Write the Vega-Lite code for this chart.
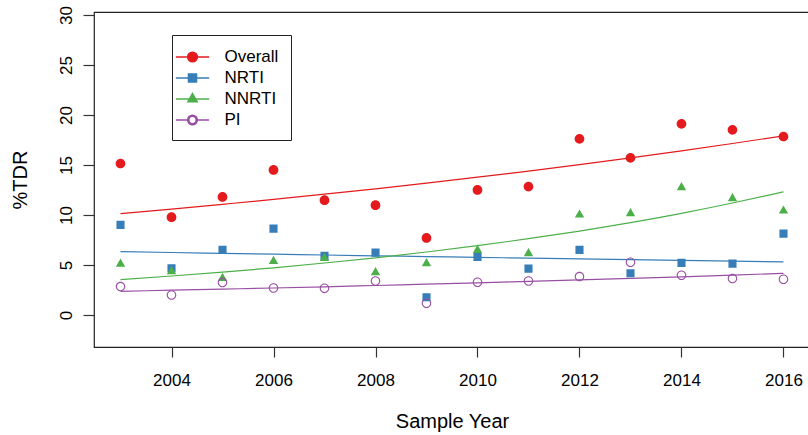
{
  "$schema": "https://vega.github.io/schema/vega-lite/v6.json",
  "width": 716,
  "height": 335,
  "autosize": {"type": "none"},
  "padding": {"left": 94, "top": 12, "right": 0, "bottom": 88},
  "background": "white",
  "config": {
    "view": {"stroke": "#222", "strokeWidth": 1.2},
    "font": "Liberation Sans"
  },
  "datasets": {
    "pts": [
      {"year": 2003, "series": "Overall", "value": 15.15},
      {"year": 2004, "series": "Overall", "value": 9.78},
      {"year": 2005, "series": "Overall", "value": 11.81},
      {"year": 2006, "series": "Overall", "value": 14.51},
      {"year": 2007, "series": "Overall", "value": 11.48},
      {"year": 2008, "series": "Overall", "value": 10.98},
      {"year": 2009, "series": "Overall", "value": 7.71},
      {"year": 2010, "series": "Overall", "value": 12.51},
      {"year": 2011, "series": "Overall", "value": 12.84},
      {"year": 2012, "series": "Overall", "value": 17.62},
      {"year": 2013, "series": "Overall", "value": 15.72},
      {"year": 2014, "series": "Overall", "value": 19.12},
      {"year": 2015, "series": "Overall", "value": 18.52},
      {"year": 2016, "series": "Overall", "value": 17.85},
      {"year": 2003, "series": "NRTI", "value": 9.01},
      {"year": 2004, "series": "NRTI", "value": 4.67},
      {"year": 2005, "series": "NRTI", "value": 6.51},
      {"year": 2006, "series": "NRTI", "value": 8.64},
      {"year": 2007, "series": "NRTI", "value": 5.91},
      {"year": 2008, "series": "NRTI", "value": 6.24},
      {"year": 2009, "series": "NRTI", "value": 1.77},
      {"year": 2010, "series": "NRTI", "value": 5.81},
      {"year": 2011, "series": "NRTI", "value": 4.64},
      {"year": 2012, "series": "NRTI", "value": 6.51},
      {"year": 2013, "series": "NRTI", "value": 4.17},
      {"year": 2014, "series": "NRTI", "value": 5.21},
      {"year": 2015, "series": "NRTI", "value": 5.14},
      {"year": 2016, "series": "NRTI", "value": 8.14},
      {"year": 2003, "series": "NNRTI", "value": 5.1},
      {"year": 2004, "series": "NNRTI", "value": 4.35},
      {"year": 2005, "series": "NNRTI", "value": 3.68},
      {"year": 2006, "series": "NNRTI", "value": 5.38},
      {"year": 2007, "series": "NNRTI", "value": 5.68},
      {"year": 2008, "series": "NNRTI", "value": 4.25},
      {"year": 2009, "series": "NNRTI", "value": 5.15},
      {"year": 2010, "series": "NNRTI", "value": 6.48},
      {"year": 2011, "series": "NNRTI", "value": 6.15},
      {"year": 2012, "series": "NNRTI", "value": 10.02},
      {"year": 2013, "series": "NNRTI", "value": 10.15},
      {"year": 2014, "series": "NNRTI", "value": 12.75},
      {"year": 2015, "series": "NNRTI", "value": 11.65},
      {"year": 2016, "series": "NNRTI", "value": 10.42},
      {"year": 2003, "series": "PI", "value": 2.84},
      {"year": 2004, "series": "PI", "value": 2.0},
      {"year": 2005, "series": "PI", "value": 3.24},
      {"year": 2006, "series": "PI", "value": 2.7},
      {"year": 2007, "series": "PI", "value": 2.67},
      {"year": 2008, "series": "PI", "value": 3.4},
      {"year": 2009, "series": "PI", "value": 1.17},
      {"year": 2010, "series": "PI", "value": 3.27},
      {"year": 2011, "series": "PI", "value": 3.4},
      {"year": 2012, "series": "PI", "value": 3.84},
      {"year": 2013, "series": "PI", "value": 5.27},
      {"year": 2014, "series": "PI", "value": 3.97},
      {"year": 2015, "series": "PI", "value": 3.64},
      {"year": 2016, "series": "PI", "value": 3.57}
    ],
    "fit": [
      {"year": 2003, "series": "Overall", "value": 10.14},
      {"year": 2004, "series": "Overall", "value": 10.59},
      {"year": 2005, "series": "Overall", "value": 11.07},
      {"year": 2006, "series": "Overall", "value": 11.56},
      {"year": 2007, "series": "Overall", "value": 12.08},
      {"year": 2008, "series": "Overall", "value": 12.62},
      {"year": 2009, "series": "Overall", "value": 13.19},
      {"year": 2010, "series": "Overall", "value": 13.78},
      {"year": 2011, "series": "Overall", "value": 14.39},
      {"year": 2012, "series": "Overall", "value": 15.04},
      {"year": 2013, "series": "Overall", "value": 15.71},
      {"year": 2014, "series": "Overall", "value": 16.41},
      {"year": 2015, "series": "Overall", "value": 17.15},
      {"year": 2016, "series": "Overall", "value": 17.92},
      {"year": 2003, "series": "NRTI", "value": 6.34},
      {"year": 2004, "series": "NRTI", "value": 6.25},
      {"year": 2005, "series": "NRTI", "value": 6.17},
      {"year": 2006, "series": "NRTI", "value": 6.09},
      {"year": 2007, "series": "NRTI", "value": 6.0},
      {"year": 2008, "series": "NRTI", "value": 5.92},
      {"year": 2009, "series": "NRTI", "value": 5.84},
      {"year": 2010, "series": "NRTI", "value": 5.76},
      {"year": 2011, "series": "NRTI", "value": 5.69},
      {"year": 2012, "series": "NRTI", "value": 5.61},
      {"year": 2013, "series": "NRTI", "value": 5.53},
      {"year": 2014, "series": "NRTI", "value": 5.46},
      {"year": 2015, "series": "NRTI", "value": 5.39},
      {"year": 2016, "series": "NRTI", "value": 5.31},
      {"year": 2003, "series": "NNRTI", "value": 3.54},
      {"year": 2004, "series": "NNRTI", "value": 3.9},
      {"year": 2005, "series": "NNRTI", "value": 4.29},
      {"year": 2006, "series": "NNRTI", "value": 4.72},
      {"year": 2007, "series": "NNRTI", "value": 5.2},
      {"year": 2008, "series": "NNRTI", "value": 5.72},
      {"year": 2009, "series": "NNRTI", "value": 6.3},
      {"year": 2010, "series": "NNRTI", "value": 6.93},
      {"year": 2011, "series": "NNRTI", "value": 7.63},
      {"year": 2012, "series": "NNRTI", "value": 8.39},
      {"year": 2013, "series": "NNRTI", "value": 9.24},
      {"year": 2014, "series": "NNRTI", "value": 10.17},
      {"year": 2015, "series": "NNRTI", "value": 11.2},
      {"year": 2016, "series": "NNRTI", "value": 12.32},
      {"year": 2003, "series": "PI", "value": 2.37},
      {"year": 2004, "series": "PI", "value": 2.48},
      {"year": 2005, "series": "PI", "value": 2.59},
      {"year": 2006, "series": "PI", "value": 2.7},
      {"year": 2007, "series": "PI", "value": 2.82},
      {"year": 2008, "series": "PI", "value": 2.95},
      {"year": 2009, "series": "PI", "value": 3.08},
      {"year": 2010, "series": "PI", "value": 3.21},
      {"year": 2011, "series": "PI", "value": 3.36},
      {"year": 2012, "series": "PI", "value": 3.51},
      {"year": 2013, "series": "PI", "value": 3.66},
      {"year": 2014, "series": "PI", "value": 3.82},
      {"year": 2015, "series": "PI", "value": 3.99},
      {"year": 2016, "series": "PI", "value": 4.17}
    ]
  },
  "encoding": {
    "x": {
      "field": "year",
      "type": "quantitative",
      "scale": {"domain": [2002.48, 2016.52], "nice": false, "zero": false},
      "axis": {
        "values": [2004, 2006, 2008, 2010, 2012, 2014, 2016],
        "format": "d",
        "title": "Sample Year",
        "domain": false,
        "grid": false,
        "tickSize": 10,
        "tickColor": "#333",
        "tickWidth": 1.2,
        "labelFontSize": 17,
        "labelColor": "black",
        "labelBaseline": "alphabetic",
        "labelPadding": 28,
        "labelFlush": false,
        "titleFontSize": 20,
        "titleFontWeight": "normal",
        "titleColor": "black",
        "titleY": 80,
        "titleBaseline": "alphabetic"
      }
    },
    "y": {
      "field": "value",
      "type": "quantitative",
      "scale": {"domain": [-3.2, 30.3], "nice": false, "zero": false},
      "axis": {
        "values": [0, 5, 10, 15, 20, 25, 30],
        "title": "%TDR",
        "domain": false,
        "grid": false,
        "tickSize": 11,
        "tickColor": "#333",
        "tickWidth": 1.2,
        "labelAngle": -90,
        "labelAlign": "center",
        "labelBaseline": "alphabetic",
        "labelPadding": 12,
        "labelFontSize": 17,
        "labelColor": "black",
        "titleFontSize": 20,
        "titleFontWeight": "normal",
        "titleColor": "black",
        "titleAngle": -90,
        "titleX": -68,
        "titleY": 167.5,
        "titleAlign": "center",
        "titleBaseline": "alphabetic"
      }
    }
  },
  "layer": [
    {
      "data": {"name": "fit"},
      "mark": {"type": "line", "strokeWidth": 1.2, "interpolate": "monotone"},
      "encoding": {
        "detail": {"field": "series", "type": "nominal"},
        "color": {
          "field": "series",
          "type": "nominal",
          "scale": {"domain": ["Overall", "NRTI", "NNRTI", "PI"], "range": ["#E41A1C", "#377EB8", "#4DAF4A", "#984EA3"]}
        }
      }
    },
    {
      "data": {"name": "pts"},
      "mark": {"type": "point", "filled": true, "size": 324, "opacity": 1},
      "encoding": {
        "color": {
          "field": "series",
          "type": "nominal",
          "scale": {"domain": ["Overall", "NRTI", "NNRTI", "PI"], "range": ["#E41A1C", "#377EB8", "#4DAF4A", "#984EA3"]},
          "legend": {
            "title": null,
            "orient": "none",
            "legendX": 78,
            "legendY": 23,
            "padding": 12,
            "strokeColor": "#222",
            "fillColor": "white",
            "labelFontSize": 17,
            "labelColor": "black",
            "labelOffset": 22,
            "symbolOffset": -1.5,
            "symbolSize": 324,
            "rowPadding": 3,
            "encode": {
              "symbols": {
                "update": {
                  "stroke": {"scale": "color", "field": "value"},
                  "strokeWidth": {"value": 1}
                }
              }
            }
          }
        },
        "shape": {
          "field": "series",
          "type": "nominal",
          "scale": {
            "domain": ["Overall", "NRTI", "NNRTI", "PI"],
            "range": [
              "M-1.85,0H1.85M0.54,0A0.54,0.54 0 1,1 -0.54,0A0.54,0.54 0 1,1 0.54,0Z",
              "M-1.85,0H1.85M-0.45,-0.45H0.45V0.45H-0.45Z",
              "M-1.85,0H1.85M0,-0.6L0.52,0.3H-0.52Z",
              "M-1.85,0H-0.53M0.53,0H1.85M0.53,0A0.53,0.53 0 1,1 -0.53,0A0.53,0.53 0 1,1 0.53,0ZM0.41,0A0.41,0.41 0 1,0 -0.41,0A0.41,0.41 0 1,0 0.41,0Z"
            ]
          }
        }
      }
    }
  ]
}
